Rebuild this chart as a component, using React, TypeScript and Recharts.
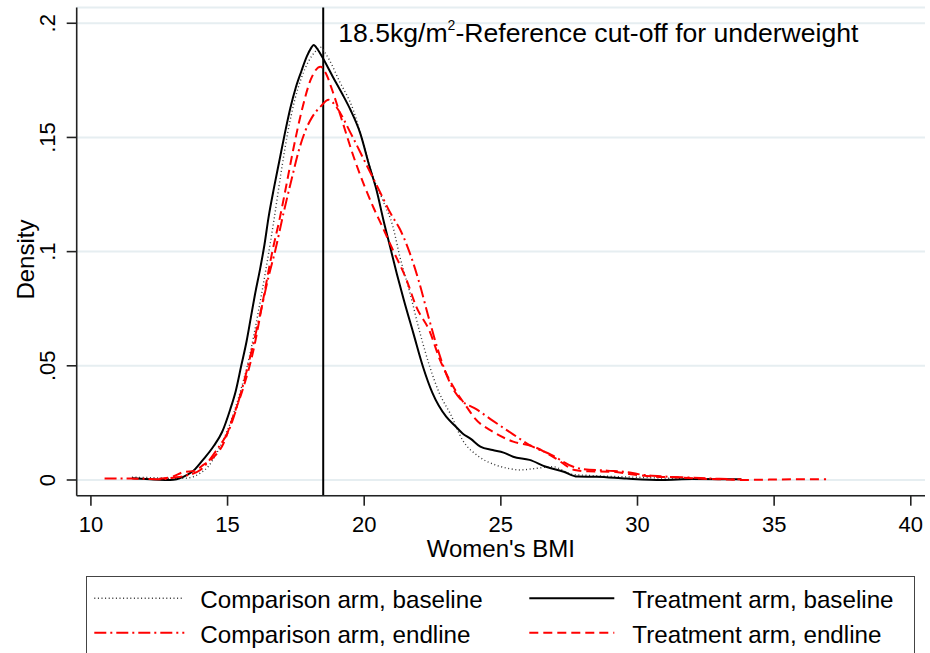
import { CartesianGrid, Label, Legend, Line, LineChart, ReferenceLine, XAxis, YAxis } from 'recharts';

const FONT = '"Liberation Sans", Arial, sans-serif';

const X_TICKS = [10, 15, 20, 25, 30, 35, 40];
const Y_TICKS = [0, 0.05, 0.1, 0.15, 0.2];
const Y_TICK_LABELS = ['0', '.05', '.1', '.15', '.2'];
const CUTOFF = 18.5;

// Comparison arm, baseline (dotted)
const compBaseBmi = [11.5, 12, 12.5, 13, 13.5, 14, 14.3, 14.6, 15.1, 15.45, 15.8, 16.1, 16.4, 16.7, 16.95, 17.2, 17.45, 17.7, 17.95, 18.2, 18.4, 18.6, 19.1, 19.6, 19.95, 20.3, 20.7, 21.05, 21.3, 21.65, 22.05, 22.4, 22.75, 23.15, 23.6, 24.2, 24.8, 25.3, 25.7, 26.3, 26.9, 27.6, 28.2, 29, 30, 31, 32, 33.2];
const compBaseDensity = [0.0012, 0.0011, 0.0009, 0.0006, 0.0008, 0.003, 0.006, 0.0117, 0.025, 0.038, 0.054, 0.072, 0.092, 0.114, 0.134, 0.152, 0.166, 0.176, 0.183, 0.1875, 0.1895, 0.1865, 0.1745, 0.162, 0.148, 0.1335, 0.122, 0.111, 0.098, 0.083, 0.064, 0.0496, 0.038, 0.029, 0.0175, 0.0102, 0.0066, 0.005, 0.0044, 0.0051, 0.0058, 0.0025, 0.002, 0.0016, 0.0012, 0.0008, 0.0005, 0.0004];

// Treatment arm, baseline (solid)
const treatBaseBmi = [11.5, 12, 12.5, 12.9, 13.4, 13.75, 14.1, 14.5, 14.8, 15.1, 15.3, 15.5, 15.7, 15.85, 16, 16.2, 16.35, 16.5, 16.7, 16.9, 17.1, 17.3, 17.5, 17.7, 17.9, 18.05, 18.15, 18.3, 18.45, 18.85, 19.2, 19.5, 19.85, 20.2, 20.45, 20.7, 20.95, 21.2, 21.45, 21.8, 22.15, 22.5, 23, 23.3, 23.6, 23.9, 24.25, 24.7, 25.1, 25.45, 26.05, 26.65, 27.3, 27.8, 28.5, 29.6, 30.9, 32, 33.8];
const treatBaseDensity = [0.0008, 0.0004, 0.0001, 0, 0.0015, 0.004, 0.0088, 0.015, 0.021, 0.031, 0.039, 0.05, 0.061, 0.071, 0.081, 0.093, 0.103, 0.115, 0.128, 0.14, 0.152, 0.163, 0.172, 0.179, 0.1855, 0.189, 0.1905, 0.1885, 0.1855, 0.1766, 0.169, 0.162, 0.152, 0.137, 0.127, 0.114, 0.102, 0.09, 0.0788, 0.0642, 0.0496, 0.038, 0.0277, 0.024, 0.0204, 0.018, 0.0146, 0.0131, 0.012, 0.0102, 0.0088, 0.0058, 0.0036, 0.0015, 0.0014, 0.0006, 0, 0.0004, 0.0003];

// Comparison arm, endline (dash-dot)
const compEndBmi = [10.5, 11.5, 12, 12.5, 13, 13.5, 14, 14.6, 15.1, 15.45, 15.8, 16.2, 16.5, 16.75, 17.05, 17.35, 17.6, 17.85, 18.1, 18.4, 18.7, 19, 19.5, 20, 20.5, 21, 21.3, 21.65, 22, 22.35, 22.75, 23.2, 23.55, 24.1, 24.7, 25.45, 26.05, 26.85, 27.65, 28, 28.9, 29.6, 30, 31, 32, 33, 33.8];
const compEndDensity = [0.0007, 0.0006, 0.0005, 0.0003, 0.001, 0.002, 0.0044, 0.0131, 0.0233, 0.0365, 0.0525, 0.073, 0.089, 0.1007, 0.117, 0.132, 0.144, 0.153, 0.159, 0.1635, 0.1665, 0.163, 0.152, 0.14, 0.128, 0.116, 0.11, 0.1, 0.087, 0.0715, 0.055, 0.041, 0.035, 0.031, 0.026, 0.02, 0.0153, 0.011, 0.0058, 0.0048, 0.0041, 0.0035, 0.0026, 0.0015, 0.001, 0.0005, 0.0003];

// Treatment arm, endline (dashed)
const treatEndBmi = [12.5, 13, 13.4, 13.8, 14.1, 14.45, 14.85, 15.2, 15.55, 15.95, 16.3, 16.65, 16.9, 17.15, 17.4, 17.7, 18.05, 18.4, 18.6, 18.85, 19.2, 19.6, 20, 20.35, 20.7, 21.05, 21.55, 21.9, 22.4, 22.75, 23.25, 23.75, 24.05, 24.7, 25.45, 26.2, 27, 27.7, 28.2, 29.1, 29.7, 30.6, 31.4, 32.3, 33, 33.9, 34.5, 35.7, 36.9];
const treatEndDensity = [0.0005, 0.0015, 0.0035, 0.004, 0.0065, 0.0095, 0.016, 0.0277, 0.0394, 0.057, 0.0788, 0.1007, 0.114, 0.129, 0.1445, 0.161, 0.1755, 0.181, 0.178, 0.17, 0.157, 0.142, 0.129, 0.119, 0.11, 0.1007, 0.0876, 0.076, 0.065, 0.0533, 0.041, 0.032, 0.027, 0.0212, 0.0168, 0.0146, 0.0095, 0.0044, 0.0038, 0.0036, 0.0026, 0.0015, 0.0012, 0.0006, 0.0003, 0, 0.0001, 0.0003, 0.0003];

const toPoints = (bmi: number[], density: number[]) => bmi.map((x, i) => ({ x, y: density[i] }));

const SERIES = [
  { name: 'Comparison arm, baseline', data: toPoints(compBaseBmi, compBaseDensity), color: '#333', width: 1.4, dash: '1 2.6' },
  { name: 'Treatment arm, baseline', data: toPoints(treatBaseBmi, treatBaseDensity), color: '#000', width: 2, dash: undefined },
  { name: 'Comparison arm, endline', data: toPoints(compEndBmi, compEndDensity), color: '#ff0000', width: 2, dash: '12 4 2 4' },
  { name: 'Treatment arm, endline', data: toPoints(treatEndBmi, treatEndDensity), color: '#ff0000', width: 2, dash: '9 5' },
];

const XTick = ({ x, y, payload }: any) => (
  <text x={x} y={y + 26} textAnchor="middle" fontSize={22} fontFamily={FONT} fill="#000">
    {payload.value}
  </text>
);

const YTick = ({ x, y, payload }: any) => {
  const bx = x - 12;
  const label = Y_TICK_LABELS[Y_TICKS.indexOf(payload.value)] ?? String(payload.value);
  return (
    <text x={bx} y={y} transform={`rotate(-90, ${bx}, ${y})`} textAnchor="middle" fontSize={22} fontFamily={FONT} fill="#000">
      {label}
    </text>
  );
};

function LegendBox() {
  const sample = (s: (typeof SERIES)[number], x1: number, x2: number, y: number) => (
    <line x1={x1} x2={x2} y1={y} y2={y} stroke={s.color} strokeWidth={s.width} strokeDasharray={s.dash} />
  );
  const rows = [22.3, 56.7];
  const cols = [
    { x1: 9.3, x2: 99.3, tx: 115.3 },
    { x1: 444.3, x2: 529.3, tx: 547.3 },
  ];
  return (
    <div style={{ width: 829, height: 90, border: '1.5px solid #444', boxSizing: 'border-box', background: '#fff' }}>
      <svg width={829} height={90} style={{ display: 'block', marginTop: -1.5, marginLeft: -1.5 }}>
        {SERIES.map((s, i) => {
          const c = cols[i % 2];
          const r = rows[Math.floor(i / 2)];
          return (
            <g key={s.name}>
              {sample(s, c.x1, c.x2, r)}
              <text x={c.tx} y={r + 10} fontSize={24.2} fontFamily={FONT} fill="#000">
                {s.name}
              </text>
            </g>
          );
        })}
      </svg>
    </div>
  );
}

export default function App() {
  return (
    <div style={{ position: 'absolute', left: 0, top: 0, width: 930, height: 653, overflow: 'hidden', background: '#fff' }}>
      <LineChart width={930} height={653} margin={{ top: 7.5, right: 5, left: 6.7, bottom: 117.3 }}>
        <CartesianGrid horizontal vertical={false} stroke="#e6eef1" strokeWidth={2} />
        <XAxis
          type="number"
          dataKey="x"
          domain={[9.48, 40.52]}
          ticks={X_TICKS}
          allowDataOverflow
          height={40}
          tickSize={10}
          tickMargin={0}
          tick={<XTick />}
          stroke="#222"
          strokeWidth={1.6}
        >
          <Label
            content={({ viewBox }: any) => (
              <text x={viewBox.x + viewBox.width / 2} y={viewBox.y + 61} textAnchor="middle" fontSize={24} fontFamily={FONT} fill="#000">
                Women's BMI
              </text>
            )}
          />
        </XAxis>
        <YAxis
          type="number"
          domain={[-0.00688, 0.2069]}
          ticks={Y_TICKS}
          allowDataOverflow
          width={70}
          tickSize={10}
          tickMargin={0}
          tick={<YTick />}
          stroke="#222"
          strokeWidth={1.6}
        >
          <Label
            content={({ viewBox }: any) => {
              const cx = 34;
              const cy = viewBox.y + viewBox.height / 2 + 8;
              return (
                <text x={cx} y={cy} transform={`rotate(-90, ${cx}, ${cy})`} textAnchor="middle" fontSize={24} fontFamily={FONT} fill="#000">
                  Density
                </text>
              );
            }}
          />
        </YAxis>
        <ReferenceLine
          x={CUTOFF}
          stroke="#000"
          strokeWidth={2}
          label={({ viewBox }: any) => (
            <text x={viewBox.x + 15} y={viewBox.y + 34.2} fontSize={26.6} fontFamily={FONT} fill="#000">
              18.5kg/m
              <tspan fontSize={14} dy={-12}>2</tspan>
              <tspan dy={12}>-Reference cut-off for underweight</tspan>
            </text>
          )}
        />
        {SERIES.map((s) => (
          <Line
            key={s.name}
            data={s.data}
            dataKey="y"
            name={s.name}
            type="monotone"
            stroke={s.color}
            strokeWidth={s.width}
            strokeDasharray={s.dash}
            dot={false}
            activeDot={false}
            isAnimationActive={false}
          />
        ))}
        <Legend
          layout="horizontal"
          verticalAlign="middle"
          align="center"
          wrapperStyle={{ left: 85.7, top: 576, width: 829, height: 90 }}
          content={() => <LegendBox />}
        />
      </LineChart>
    </div>
  );
}
